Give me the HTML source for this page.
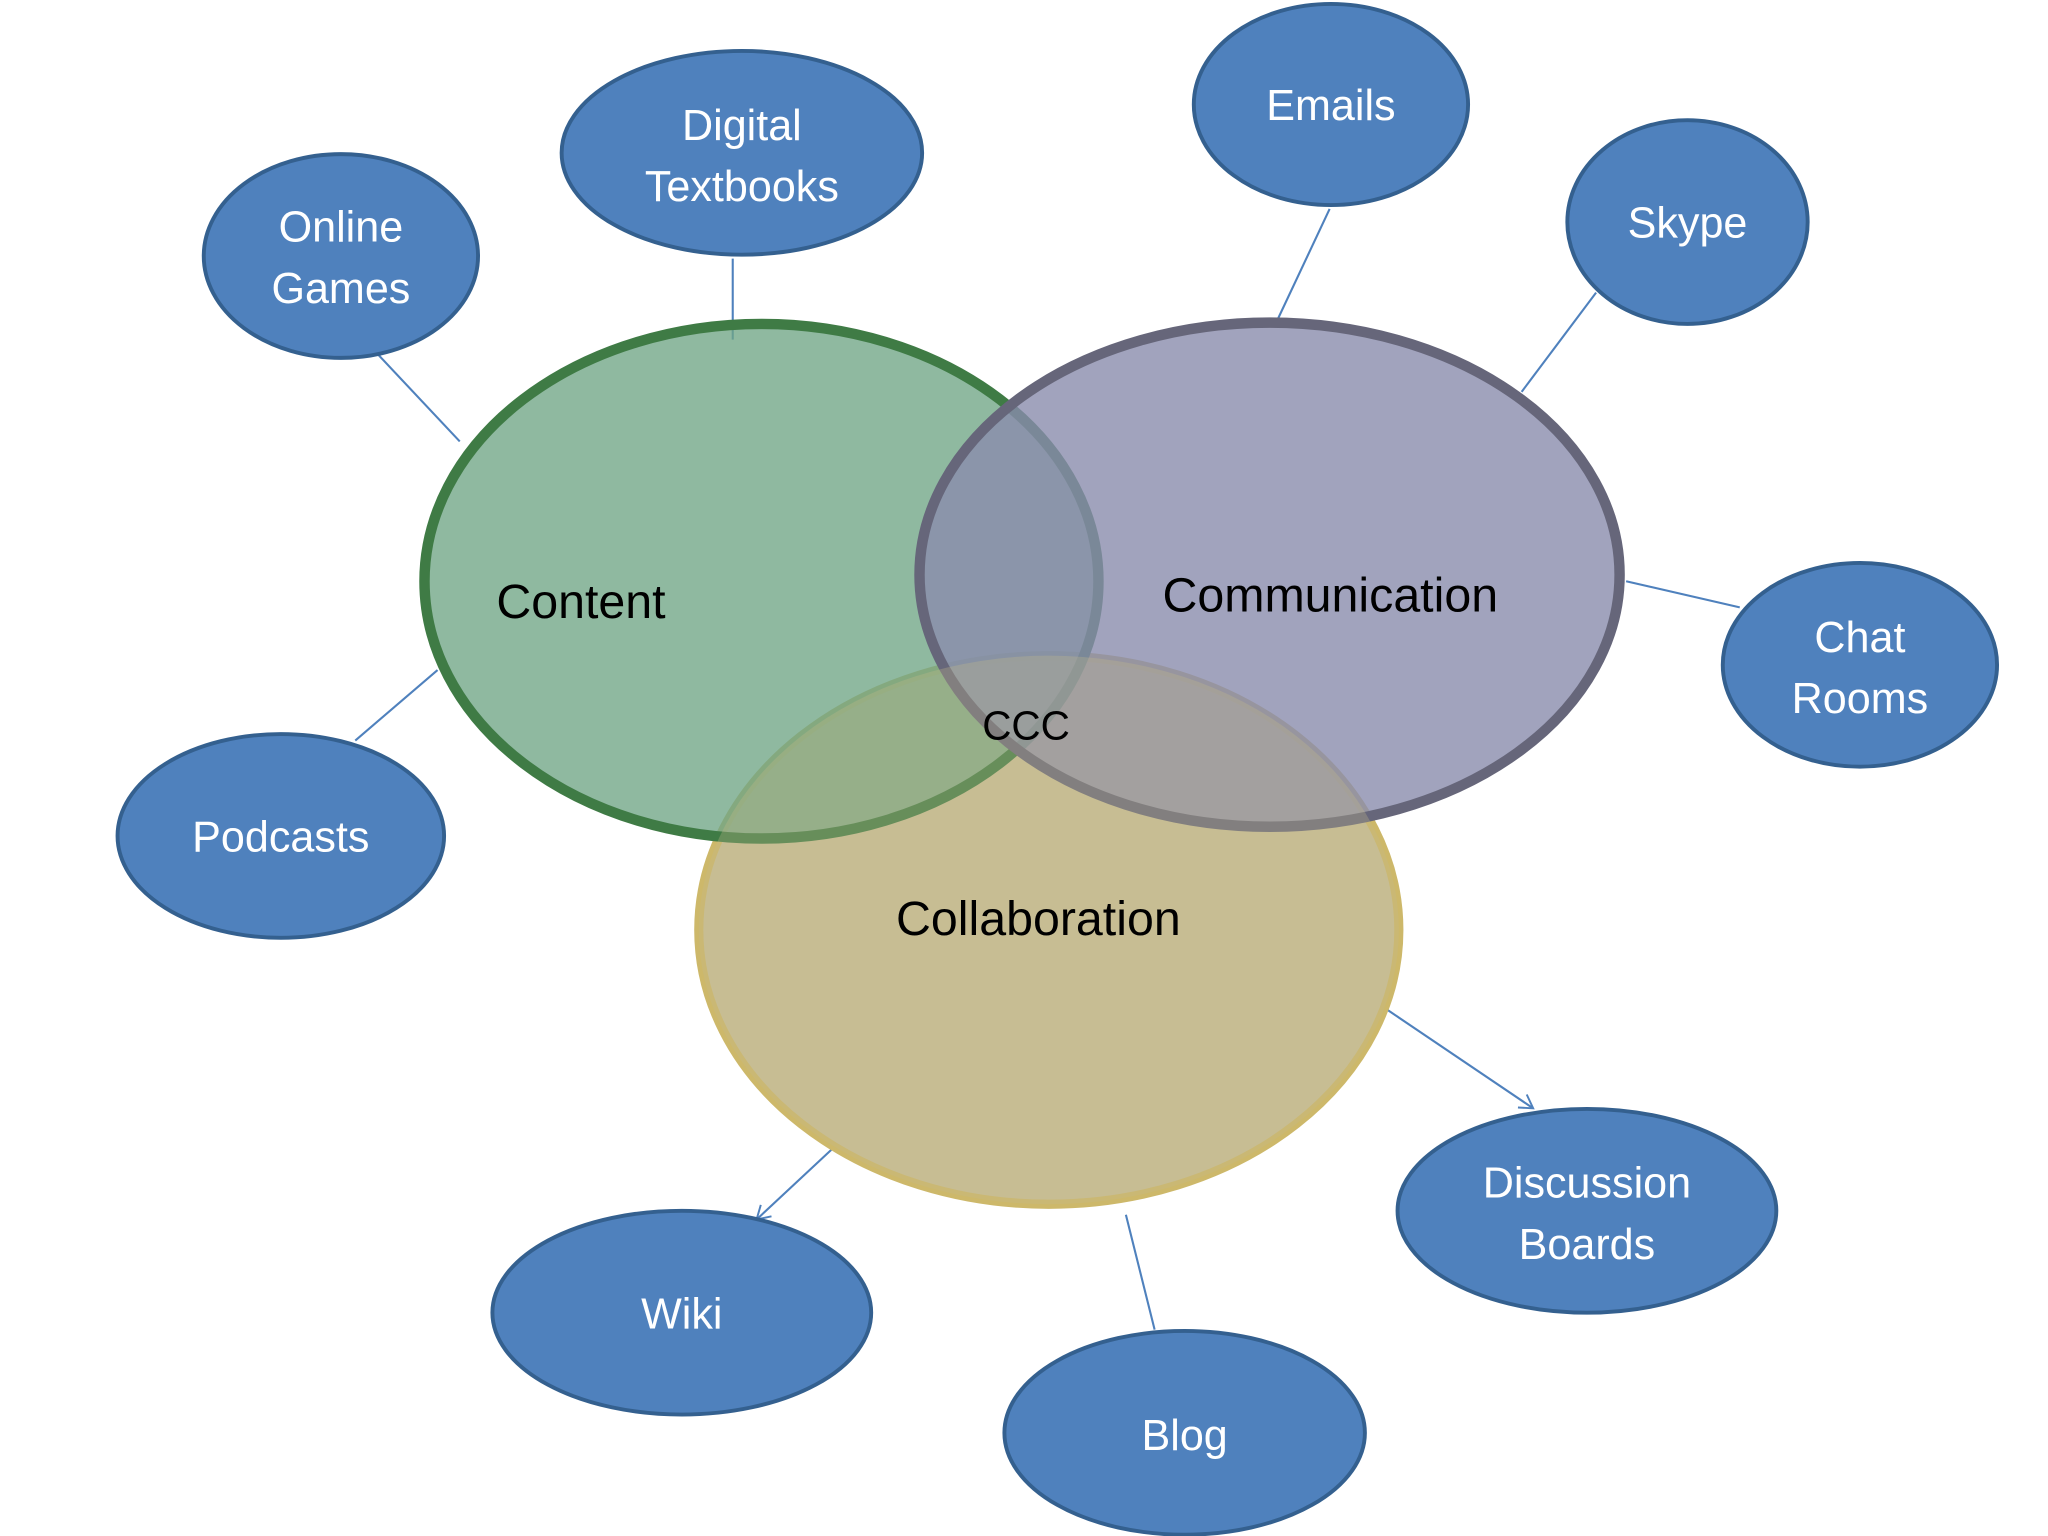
<!DOCTYPE html>
<html><head><meta charset="utf-8"><style>
html,body{margin:0;padding:0;background:#fff;}
svg{display:block;}
text{font-family:"Liberation Sans","DejaVu Sans",sans-serif;}
</style></head><body>
<svg width="2048" height="1536" viewBox="0 0 1568 1176" xmlns="http://www.w3.org/2000/svg">
<defs>
<marker id="ar" markerWidth="14" markerHeight="14" refX="10" refY="7" orient="auto" markerUnits="userSpaceOnUse">
<path d="M1,1 L11,7 L1,13" fill="none" stroke="#4f81bd" stroke-width="1.5"/>
</marker>
<filter id="sh" x="-20%" y="-20%" width="140%" height="140%"><feGaussianBlur stdDeviation="2"/></filter>
</defs>
<rect width="1568" height="1176" fill="#fff"/>
<!-- connectors -->
<g stroke="#4f81bd" stroke-width="1.6" fill="none">
<line x1="290" y1="272" x2="352" y2="338"/>
<line x1="561" y1="198" x2="561" y2="260"/>
<line x1="1018" y1="160" x2="978" y2="245"/>
<line x1="1222" y1="224" x2="1165" y2="300"/>
<line x1="1245" y1="445" x2="1332" y2="465"/>
<line x1="272" y1="567" x2="335" y2="513"/>
<line x1="640" y1="877" x2="580" y2="933" marker-end="url(#ar)"/>
<line x1="862" y1="930" x2="884" y2="1018"/>
<line x1="1062" y1="773" x2="1173" y2="848" marker-end="url(#ar)"/>
</g>
<!-- venn -->
<ellipse cx="803" cy="712" rx="268" ry="210" fill="#c3b88c" fill-opacity="0.9" stroke="#cdb86a" stroke-width="7"/>
<ellipse cx="583" cy="445" rx="258" ry="197" fill="#6fa585" fill-opacity="0.78" stroke="#3f7b45" stroke-width="8"/>
<ellipse cx="972" cy="440" rx="268" ry="193" fill="#8a8cac" fill-opacity="0.8" stroke="#66667a" stroke-width="8"/>
<ellipse cx="803" cy="712" rx="268" ry="210" fill="#c3b88c" fill-opacity="0.3" stroke="none"/>
<g font-size="37" fill="#000">
<text x="380" y="473">Content</text>
<text x="890" y="468">Communication</text>
<text x="686" y="716">Collaboration</text>
<text x="752" y="566" font-size="31">CCC</text>
</g>
<!-- blue nodes -->
<g fill="#4f81bd" stroke="#34608f" stroke-width="3">
<ellipse cx="261" cy="196" rx="105" ry="78"/>
<ellipse cx="568" cy="117" rx="138" ry="78"/>
<ellipse cx="1019" cy="80" rx="105" ry="77"/>
<ellipse cx="1292" cy="170" rx="92" ry="78"/>
<ellipse cx="1424" cy="509" rx="105" ry="78"/>
<ellipse cx="215" cy="640" rx="125" ry="78"/>
<ellipse cx="522" cy="1005" rx="145" ry="78"/>
<ellipse cx="907" cy="1097" rx="138" ry="78"/>
<ellipse cx="1215" cy="927" rx="145" ry="78"/>
</g>
<g font-size="33" fill="#fff" text-anchor="middle">
<text x="261" y="185">Online</text><text x="261" y="232">Games</text>
<text x="568" y="107">Digital</text><text x="568" y="154">Textbooks</text>
<text x="1019" y="92">Emails</text>
<text x="1292" y="182">Skype</text>
<text x="1424" y="499">Chat</text><text x="1424" y="546">Rooms</text>
<text x="215" y="652">Podcasts</text>
<text x="522" y="1017">Wiki</text>
<text x="907" y="1110">Blog</text>
<text x="1215" y="917">Discussion</text><text x="1215" y="964">Boards</text>
</g>
</svg>
</body></html>
